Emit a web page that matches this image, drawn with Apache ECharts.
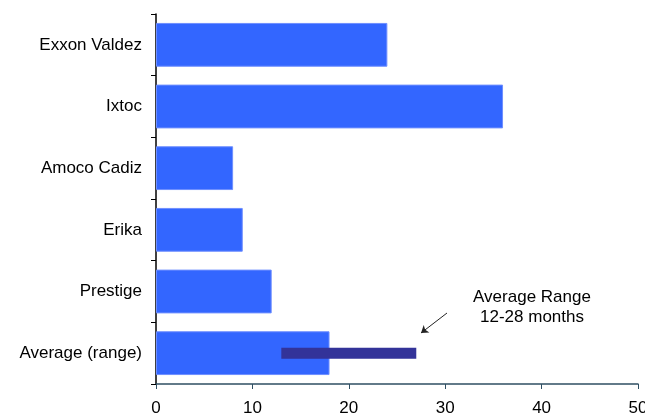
<!DOCTYPE html>
<html>
<head>
<meta charset="utf-8">
<script src="https://cdn.jsdelivr.net/npm/echarts@6/dist/echarts.min.js"></script>
<style>
  html, body { margin: 0; padding: 0; background: #fff; }
  #chart { width: 645px; height: 417px; }
</style>
</head>
<body>
<div id="chart"></div>
<script>
// spills, months to recover
const categories = ['Exxon Valdez', 'Ixtoc', 'Amoco Cadiz', 'Erika', 'Prestige', 'Average (range)'];
const months = [24, 36, 8, 9, 12, 18];
// average range bar drawn over the last category: [from, to, category index]
const rangeData = [[13, 27, 5]];
const xTicks = [0, 10, 20, 30, 40, 50];

const font = 'Liberation Sans, Arial, sans-serif';

const chart = echarts.init(document.getElementById('chart'));

const option = {
  animation: false,
  grid: { left: 156, right: 7, top: 14, bottom: 33, outerBoundsMode: 'none', containLabel: false },
  xAxis: {
    type: 'value',
    min: xTicks[0],
    max: xTicks[xTicks.length - 1],
    interval: 10,
    splitLine: { show: false },
    axisLine: { show: true, lineStyle: { color: '#2f4f63', width: 1.5 } },
    axisTick: { show: true, length: 5, lineStyle: { color: '#2f4f63' } },
    axisLabel: { color: '#000', fontFamily: font, fontSize: 17, margin: 16 }
  },
  yAxis: {
    type: 'category',
    inverse: true,
    data: categories,
    axisLine: { show: true, lineStyle: { color: '#000', width: 1.5 } },
    axisTick: { show: true, length: 5, lineStyle: { color: '#000' } },
    axisLabel: { color: '#000', fontFamily: font, fontSize: 17, margin: 14 }
  },
  series: [
    {
      name: 'months',
      type: 'bar',
      z: 2,
      data: months,
      barCategoryGap: '29%',
      itemStyle: { color: '#3366ff', borderColor: '#6f8fff', borderWidth: 1 },
      markLine: {
        silent: true,
        symbol: ['none', 'arrow'],
        symbolSize: 7,
        label: { show: false },
        lineStyle: { color: '#222', width: 1, type: 'solid' },
        data: [[{ x: 447, y: 313 }, { x: 421, y: 333 }]]
      }
    },
    {
      name: 'range',
      type: 'custom',
      z: 5,
      data: rangeData,
      renderItem: function (params, api) {
        const start = api.coord([api.value(0), api.value(2)]);
        const end = api.coord([api.value(1), api.value(2)]);
        const h = 11;
        return {
          type: 'rect',
          shape: { x: start[0], y: start[1] - h / 2, width: end[0] - start[0], height: h },
          style: { fill: '#333399' }
        };
      }
    }
  ],
  graphic: [
    {
      type: 'text',
      x: 532,
      y: 287,
      z: 10,
      style: {
        text: 'Average Range\n12-28 months',
        fill: '#000',
        font: '17px ' + font,
        textAlign: 'center',
        lineHeight: 20
      }
    }
  ]
};

chart.setOption(option);
</script>
</body>
</html>
